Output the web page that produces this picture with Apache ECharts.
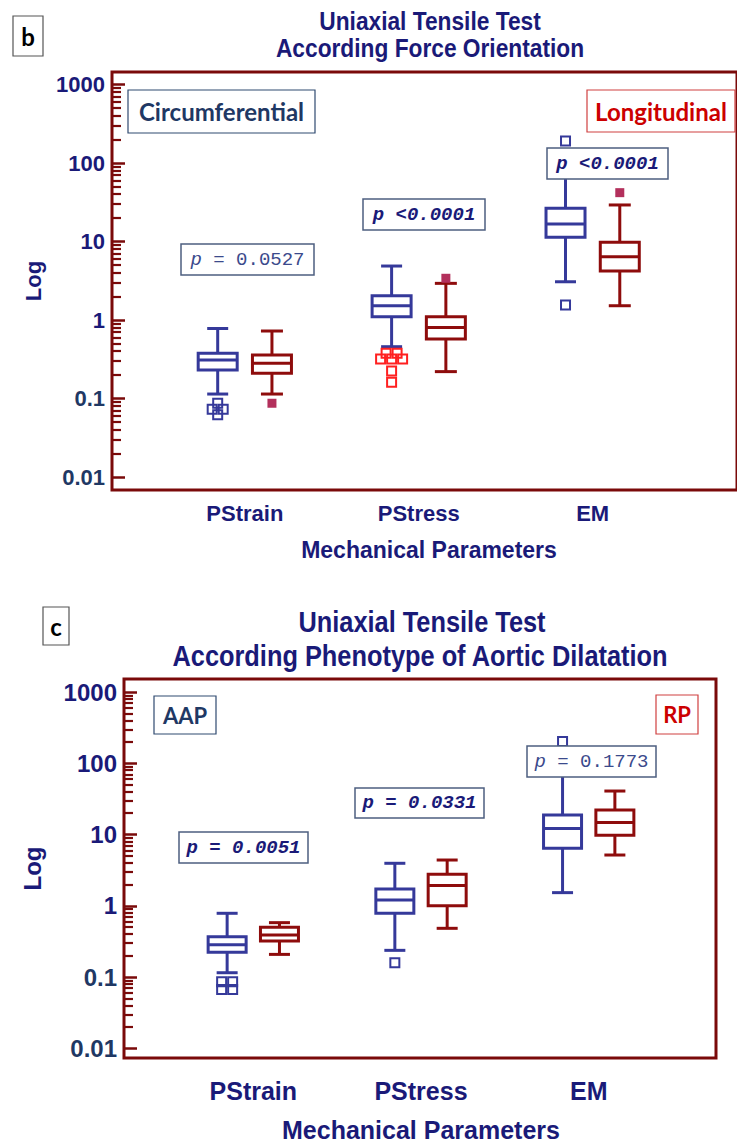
<!DOCTYPE html>
<html><head><meta charset="utf-8">
<script src="https://cdn.jsdelivr.net/npm/echarts@6/dist/echarts.min.js"></script>
<style>html,body{margin:0;padding:0;background:#fff}#chart{width:737px;height:1144px}</style>
</head><body><div id="chart"></div>
<script>
// ---------------- data ----------------
const categories = ['PStrain', 'PStress', 'EM'];
const yTickValues = [0.01, 0.1, 1, 10, 100, 1000];

// box stats: [min, Q1, median, Q3, max] per category
const bCircBoxes = [
  [0.114, 0.231, 0.31, 0.377, 0.78],
  [0.457, 1.10, 1.52, 2.04, 4.87],
  [3.07, 11.3, 16.7, 26.5, 75]
];
const bLongBoxes = [
  [0.114, 0.209, 0.281, 0.358, 0.724],
  [0.22, 0.573, 0.80, 1.10, 2.93],
  [1.52, 4.21, 6.41, 9.77, 29.2]
];
const bCircOutliers = [[0.087, 0.073, 0.073, 0.062], [0.376, 0.376, 0.319, 0.319, 0.319, 0.224, 0.161], [190, 1.55]];
const bLongOutliers = [[0.087], [3.40], [41.9]];
const bPValues = ['p = 0.0527', 'p <0.0001', 'p <0.0001'];

const cAapBoxes = [
  [0.115, 0.222, 0.285, 0.369, 0.785],
  [0.237, 0.785, 1.21, 1.72, 3.95],
  [1.53, 6.41, 12.2, 18.8, 80]
];
const cRpBoxes = [
  [0.208, 0.321, 0.389, 0.499, 0.58],
  [0.483, 1.00, 1.92, 2.77, 4.39],
  [5.16, 9.76, 14.7, 22.1, 40.8]
];
const cAapOutliers = [[0.086, 0.086, 0.067, 0.067], [0.159], [203]];
const cRpOutliers = [[], [], []];
const cPValues = ['p = 0.0051', 'p = 0.0331', 'p = 0.1773'];

// ---------------- styles ----------------
const NAVY = '#1a1a78';
const SLATE = '#1f3864';
const BLUE = '#35399a';
const RED = '#8e0c0c';
const MAROON = '#7a0a0a';
const MAGENTA = '#b3305c';
const BRIGHTRED = '#ff2020';
const sansFont = "'Liberation Sans', Arial, sans-serif";
const calFont = "Lato, 'Open Sans', sans-serif";
const monoFont = "'Liberation Mono', 'Courier New', monospace";

// minor log ticks (2..9 x 10^k)
const minorVals = [];
for (let e = -2; e < 3; e++) for (let m = 2; m <= 9; m++) minorVals.push(Number((m * Math.pow(10, e)).toPrecision(3)));

function fmtNum(v) { return String(Number(Number(v).toPrecision(6))); }

// ---------------- renderers ----------------
const GROUP_OFFSET = 0.156; // in category units
function boxRenderer(side, color, boxW, capW) {
  return function (params, api) {
    const g = api.value(0);
    const cx = api.coord([g + side * GROUP_OFFSET, 1])[0];
    const y = i => api.coord([g, api.value(i)])[1];
    const yMin = y(1), yQ1 = y(2), yMed = y(3), yQ3 = y(4), yMax = y(5);
    const st = { stroke: color, lineWidth: 3, fill: null };
    return {
      type: 'group', children: [
        { type: 'line', shape: { x1: cx, y1: yMax, x2: cx, y2: yQ3 }, style: st },
        { type: 'line', shape: { x1: cx, y1: yQ1, x2: cx, y2: yMin }, style: st },
        { type: 'line', shape: { x1: cx - capW / 2, y1: yMax, x2: cx + capW / 2, y2: yMax }, style: st },
        { type: 'line', shape: { x1: cx - capW / 2, y1: yMin, x2: cx + capW / 2, y2: yMin }, style: st },
        { type: 'rect', shape: { x: cx - boxW / 2, y: yQ3, width: boxW, height: yQ1 - yQ3 }, style: { stroke: color, lineWidth: 3, fill: '#fff' } },
        { type: 'line', shape: { x1: cx - boxW / 2, y1: yMed, x2: cx + boxW / 2, y2: yMed }, style: st }
      ]
    };
  };
}
function outlierData(arr) {
  const out = [];
  arr.forEach((vals, gi) => {
    const groups = [];
    vals.forEach(v => {
      const grp = groups.find(gr => Math.abs(Math.log10(gr.v) - Math.log10(v)) < 0.01);
      if (grp) grp.n++; else groups.push({ v, n: 1 });
    });
    groups.forEach(gr => { for (let k = 0; k < gr.n; k++) out.push([gi + 1, gr.v, k - (gr.n - 1) / 2]); });
  });
  return out;
}
function outlierRenderer(side, colors, filled) {
  return function (params, api) {
    const g = api.value(0);
    const c = api.coord([g + side * GROUP_OFFSET, api.value(1)]);
    const s = 9, sp = 11;
    const x = c[0] + api.value(2) * sp;
    const color = colors[g - 1];
    return {
      type: 'rect', shape: { x: x - s / 2, y: c[1] - s / 2, width: s, height: s },
      style: filled ? { fill: color, stroke: null } : { fill: null, stroke: color, lineWidth: 2 }
    };
  };
}
function boxData(arr) { return arr.map((b, i) => [i + 1].concat(b)); }

// ---------------- axes ----------------
function xAxisDef(gi, min, max, fs, margin) {
  return {
    gridIndex: gi, type: 'value', min, max,
    axisLine: { show: false }, axisTick: { show: false }, splitLine: { show: false },
    axisLabel: {
      customValues: [1, 2, 3], formatter: v => categories[Math.round(v) - 1] || '',
      fontSize: fs, fontWeight: 'bold', fontFamily: sansFont, color: NAVY, margin
    }
  };
}
function yAxisDef(gi, min, max, fs, nameGap) {
  return {
    gridIndex: gi, type: 'log', logBase: 10, min, max, position: 'left',
    axisLine: { show: false }, splitLine: { show: false },
    axisTick: { customValues: yTickValues, inside: true, length: 13, lineStyle: { color: MAROON, width: 2.5 } },
    axisLabel: {
      customValues: yTickValues, formatter: v => fmtNum(v), margin: 7,
      fontSize: fs, fontWeight: 'bold', fontFamily: sansFont,
      color: v => (v < 0.5 ? SLATE : NAVY)
    },
    name: 'Log', nameLocation: 'middle', nameGap,
    nameTextStyle: { fontSize: fs, fontWeight: 'bold', fontFamily: sansFont, color: NAVY }
  };
}
// overlay axes (own grid) carrying the minor log ticks
function minorXAxis(gi) { return { gridIndex: gi, type: 'value', min: 0, max: 1, show: false }; }
function minorYAxis(gi, min, max) {
  return {
    gridIndex: gi, type: 'log', logBase: 10, min, max, position: 'left',
    axisLine: { show: false }, splitLine: { show: false }, axisLabel: { show: false },
    axisTick: { customValues: minorVals, inside: true, length: 9, lineStyle: { color: MAROON, width: 2.2 } }
  };
}

// ---------------- graphics (text annotations) ----------------
function tagBox(x, y, w, h, text, color, border, fs) {
  return {
    type: 'group', children: [
      { type: 'rect', z: 100, shape: { x, y, width: w, height: h }, style: { fill: '#fff', stroke: border, lineWidth: 1.2 } },
      { type: 'text', z: 101, x: x + w / 2, y: y + h / 2, style: { text, fill: color, fontSize: fs, fontWeight: 'bold', fontFamily: calFont, align: 'center', verticalAlign: 'middle' } }
    ]
  };
}
const pRich = {
  pI: { fontStyle: 'italic', fontFamily: monoFont, fontSize: 19, fill: '#3b4a8c' },
  rN: { fontFamily: monoFont, fontSize: 19, fill: '#3b4a8c' },
  bI: { fontStyle: 'italic', fontWeight: 'bold', fontFamily: monoFont, fontSize: 19, fill: NAVY }
};
function pBox(x, y, w, h, text, bold) {
  const t = bold ? '{bI|' + text + '}' : '{pI|' + text.slice(0, 1) + '}{rN|' + text.slice(1) + '}';
  return {
    type: 'group', children: [
      { type: 'rect', z: 100, shape: { x, y, width: w, height: h }, style: { fill: '#fff', stroke: '#4d5f80', lineWidth: 1.5 } },
      { type: 'text', z: 101, x: x + w / 2, y: y + h / 2, style: { text: t, rich: pRich, align: 'center', verticalAlign: 'middle' } }
    ]
  };
}
function titleText(x, y, text, fs) {
  return { type: 'text', x, y, scaleX: 0.875, style: { text, fill: NAVY, fontSize: fs, fontWeight: 'bold', fontFamily: sansFont, align: 'center', verticalAlign: 'middle' } };
}
function axisName(x, y, fs) {
  return { type: 'text', x, y, style: { text: 'Mechanical Parameters', fill: NAVY, fontSize: fs, fontWeight: 'bold', fontFamily: sansFont, align: 'center', verticalAlign: 'middle' } };
}

const gridB = { left: 112, top: 72, width: 648, height: 418 };
const gridC = { left: 124, top: 679, width: 592, height: 379 };

const chart = echarts.init(document.getElementById('chart'), null, { renderer: 'svg' });
chart.setOption({
  animation: false,
  backgroundColor: '#fff',
  grid: [
    Object.assign({ show: true, borderColor: MAROON, borderWidth: 3, backgroundColor: 'transparent' }, gridB),
    Object.assign({ show: true, borderColor: MAROON, borderWidth: 3, backgroundColor: 'transparent' }, gridC),
    Object.assign({ show: false }, gridB),
    Object.assign({ show: false }, gridC)
  ],
  xAxis: [xAxisDef(0, 0.2363, 3.830, 22, 12), xAxisDef(1, 0.229, 3.759, 25, 20), minorXAxis(2), minorXAxis(3)],
  yAxis: [yAxisDef(0, 0.00683, 1443, 22, 68), yAxisDef(1, 0.00731, 1524, 24, 80), minorYAxis(2, 0.00683, 1443), minorYAxis(3, 0.00731, 1524)],
  series: [
    { type: 'custom', xAxisIndex: 0, yAxisIndex: 0, renderItem: boxRenderer(-1, BLUE, 39, 21), data: boxData(bCircBoxes) },
    { type: 'custom', xAxisIndex: 0, yAxisIndex: 0, renderItem: boxRenderer(1, RED, 39, 22), data: boxData(bLongBoxes) },
    { type: 'custom', xAxisIndex: 0, yAxisIndex: 0, renderItem: outlierRenderer(-1, [BLUE, BRIGHTRED, BLUE], false), data: outlierData(bCircOutliers) },
    { type: 'custom', xAxisIndex: 0, yAxisIndex: 0, renderItem: outlierRenderer(1, [MAGENTA, MAGENTA, MAGENTA], true), data: outlierData(bLongOutliers) },
    { type: 'custom', xAxisIndex: 1, yAxisIndex: 1, renderItem: boxRenderer(-1, BLUE, 38, 21), data: boxData(cAapBoxes) },
    { type: 'custom', xAxisIndex: 1, yAxisIndex: 1, renderItem: boxRenderer(1, RED, 38, 21), data: boxData(cRpBoxes) },
    { type: 'custom', xAxisIndex: 1, yAxisIndex: 1, renderItem: outlierRenderer(-1, [BLUE, BLUE, BLUE], false), data: outlierData(cAapOutliers) },
    { type: 'custom', xAxisIndex: 1, yAxisIndex: 1, renderItem: outlierRenderer(1, [MAGENTA, MAGENTA, MAGENTA], true), data: outlierData(cRpOutliers) }
  ],
  graphic: [
    titleText(430, 21, 'Uniaxial Tensile Test', 26),
    titleText(430, 48, 'According Force Orientation', 26),
    titleText(422, 622, 'Uniaxial Tensile Test', 29),
    titleText(420, 656, 'According Phenotype of Aortic Dilatation', 29),
    axisName(429, 550, 23),
    axisName(421, 1130, 25),
    tagBox(13, 16, 30, 40, 'b', '#000', '#555', 24),
    tagBox(43, 607, 26, 38, 'c', '#000', '#555', 24),
    tagBox(128, 90, 187, 43, 'Circumferential', SLATE, '#2f4a70', 24),
    tagBox(587, 90, 148, 42, 'Longitudinal', '#cc0000', '#d04040', 24),
    tagBox(154, 696, 62, 38, 'AAP', SLATE, '#2f4a70', 22),
    tagBox(656, 695, 42, 39, 'RP', '#cc0000', '#d04040', 22),
    pBox(181, 244, 133, 31, bPValues[0], false),
    pBox(363, 199, 122, 31, bPValues[1], true),
    pBox(547, 148, 121, 31, bPValues[2], true),
    pBox(179, 832, 129, 31, cPValues[0], true),
    pBox(355, 788, 129, 30, cPValues[1], true),
    pBox(527, 746, 129, 31, cPValues[2], false)
  ]
});
</script></body></html>
